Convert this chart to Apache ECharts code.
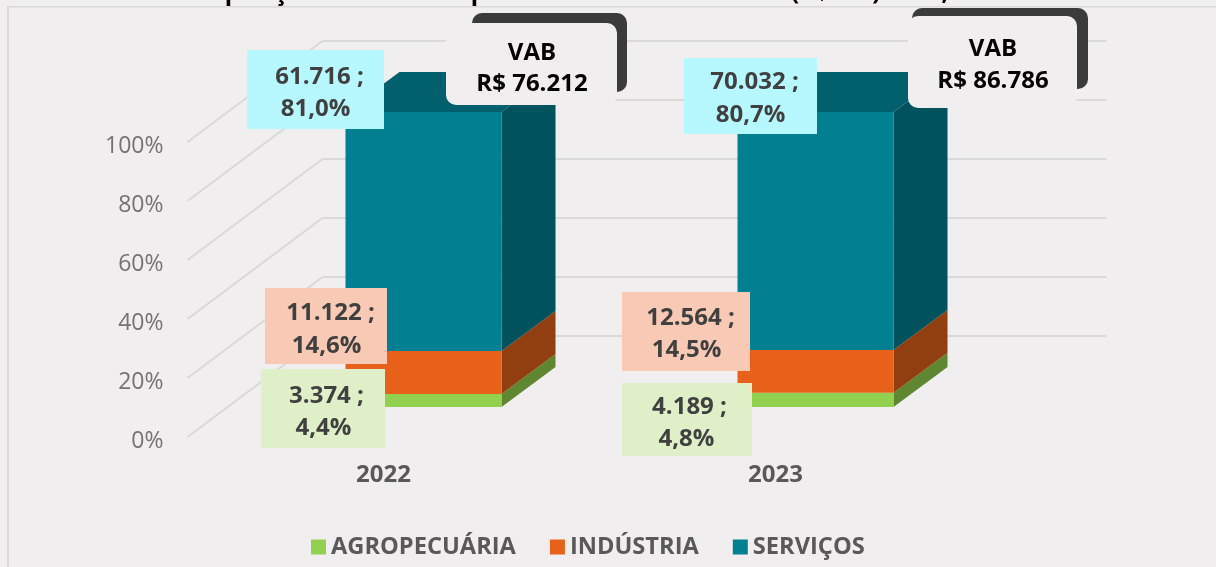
<!DOCTYPE html>
<html>
<head>
<meta charset="utf-8">
<style>html,body{margin:0;padding:0;background:#f0eeef}#c{width:1216px;height:567px}</style>
<script src="https://cdn.jsdelivr.net/npm/echarts@6/dist/echarts.min.js"></script>
</head>
<body>
<div id="c"></div>
<script>
// ---- data ----
const categories = ['2022', '2023'];
const seriesNames = ['AGROPECUÁRIA', 'INDÚSTRIA', 'SERVIÇOS'];
const agro = [3374, 4189];
const industria = [11122, 12564];
const servicos = [61716, 70032];
const agroPct = ['4,4%', '4,8%'];
const industriaPct = ['14,6%', '14,5%'];
const servicosPct = ['81,0%', '80,7%'];
const vabTotals = ['R$ 76.212', 'R$ 86.786'];
const yTicks = [0, 20, 40, 60, 80, 100];

// ---- styles and layout constants ----
const FONT = '"Open Sans", sans-serif';
const colors = [
  {front: '#92d14f', side: '#5f8731', top: '#92d14f'},
  {front: '#e8611a', side: '#913e10', top: '#e8611a'},
  {front: '#008091', side: '#00525c', top: '#00616d'}
];
const labelFill = ['#dff0c9', '#f8cab5', '#b7f8fe'];
const PLOT = {left: 187.5, top: 142, width: 784, height: 295};
const WALL = {dx: 135, dy: -101};     // depth from front to back wall
const BAR = {dx: 40, dy: -30, depthX: 54, depthY: -40, ratio: 0.398};
const Y_LABEL_SHIFT = 4;              // tick labels sit slightly below the wall lines

// label geometry relative to the category anchor (category centre at 0%)
// [boxX, boxY, boxW, boxH, line1X, line1Y, line2X, line2Y]
const labelLayout = [
  [[-122.5, -68, 124, 79, -57, -41, -60, -9], [-153.5, -54, 130, 73, -86, -30, -89, 2]],
  [[-118.5, -149, 122, 76, -53, -124, -57, -91], [-153.5, -145, 128, 79, -85, -119, -89, -87]],
  [[-136.5, -387, 137, 79, -64, -360, -68, -328], [-91.5, -379, 133, 76, -21, -355, -25, -322]]
];
// callouts: fill box, shadow box, text centre, text lines y; relative to the anchor
const calloutLayout = [
  {fill: [62.5, -414, 171, 82], back: [88.5, -424, 155, 79], cx: 148.5, y1: -384, y2: -353},
  {fill: [132.5, -421, 169, 92], back: [136.5, -429, 176, 81], cx: 217.5, y1: -388, y2: -356}
];

// ---- derived values ----
const values = [agro, industria, servicos];
const pcts = [agroPct, industriaPct, servicosPct];
const totals = categories.map((_, i) => values.reduce((s, v) => s + v[i], 0));
const fmt = n => String(n).replace(/\B(?=(\d{3})+$)/g, '.');

function stackData(si) {
  return categories.map((_, i) => {
    let base = 0;
    for (let k = 0; k < si; k++) base += values[k][i];
    return [i, base / totals[i] * 100, (base + values[si][i]) / totals[i] * 100];
  });
}

const barSeries = seriesNames.map((name, si) => ({
  type: 'custom', name, xAxisIndex: 0, yAxisIndex: 0, z: 5 + si,
  itemStyle: {color: colors[si].front},
  data: stackData(si),
  encode: {x: 0, y: [1, 2]},
  renderItem(params, api) {
    const lo = api.coord([api.value(0), api.value(1)]);
    const hi = api.coord([api.value(0), api.value(2)]);
    const w = api.size([1, 0])[0] * BAR.ratio;
    const x0 = lo[0] + BAR.dx - w / 2, x1 = x0 + w;
    const yb = lo[1] + BAR.dy, yt = hi[1] + BAR.dy;
    const c = colors[si];
    const kids = [
      {type: 'polygon', shape: {points: [[x1, yb], [x1 + BAR.depthX, yb + BAR.depthY], [x1 + BAR.depthX, yt + BAR.depthY], [x1, yt]]}, style: {fill: c.side}},
      {type: 'rect', shape: {x: x0, y: yt, width: w, height: yb - yt}, style: {fill: c.front}}
    ];
    if (si === seriesNames.length - 1) {
      kids.unshift({type: 'polygon', shape: {points: [[x0, yt], [x1, yt], [x1 + BAR.depthX, yt + BAR.depthY], [x0 + BAR.depthX, yt + BAR.depthY]]}, style: {fill: c.top}});
    }
    return {type: 'group', children: kids};
  }
}));

const wallSeries = {
  type: 'custom', name: 'wall', xAxisIndex: 0, yAxisIndex: 0, z: 2, silent: true,
  data: yTicks.map(v => [v]),
  encode: {y: 0},
  renderItem(params, api) {
    const v = api.value(0);
    const p = api.coord([0, v]);
    const x = PLOT.left;
    return {type: 'line', shape: {x1: x, y1: p[1], x2: x + WALL.dx, y2: p[1] + WALL.dy},
      style: {stroke: '#d9d9d9', lineWidth: 2}};
  }
};

const labelSeries = {
  type: 'custom', name: 'labels', xAxisIndex: 0, yAxisIndex: 0, z: 20, silent: true,
  data: seriesNames.flatMap((_, si) => categories.map((_, i) => [i, si])),
  encode: {x: 0},
  renderItem(params, api) {
    const i = api.value(0), si = api.value(1);
    const a = api.coord([i, 0]);
    const L = labelLayout[si][i];
    const t = (s, x, y) => ({type: 'text', style: {text: s, x: a[0] + x, y: a[1] + y, align: 'center', verticalAlign: 'middle',
      fill: '#404040', font: 'bold 24px ' + FONT}});
    return {type: 'group', children: [
      {type: 'rect', shape: {x: a[0] + L[0], y: a[1] + L[1], width: L[2], height: L[3]}, style: {fill: labelFill[si]}},
      t(fmt(values[si][i]) + ' ;', L[4], L[5]),
      t(pcts[si][i], L[6], L[7])
    ]};
  }
};

const calloutSeries = {
  type: 'custom', name: 'VAB', xAxisIndex: 0, yAxisIndex: 0, z: 30, silent: true,
  data: categories.map((_, i) => [i]),
  encode: {x: 0},
  renderItem(params, api) {
    const i = api.value(0);
    const a = api.coord([i, 0]);
    const C = calloutLayout[i];
    const t = (s, y) => ({type: 'text', style: {text: s, x: a[0] + C.cx, y: a[1] + y, align: 'center', verticalAlign: 'middle',
      fill: '#000000', font: 'bold 24px ' + FONT}});
    return {type: 'group', children: [
      {type: 'rect', shape: {x: a[0] + C.back[0], y: a[1] + C.back[1], width: C.back[2], height: C.back[3], r: 10}, style: {fill: '#3b3b3b'}},
      {type: 'rect', shape: {x: a[0] + C.fill[0], y: a[1] + C.fill[1], width: C.fill[2], height: C.fill[3], r: 10}, style: {fill: '#f0eeef'}},
      t('VAB', C.y1),
      t(vabTotals[i], C.y2)
    ]};
  }
};

const option = {
  animation: false,
  backgroundColor: '#f0eeef',
  title: {
    text: 'Composição do VAB Real por Setores da Economia – (R$ Mil) 2022, 2023',
    left: 166, top: -24,
    textStyle: {fontFamily: FONT, fontWeight: 'bold', fontSize: 24, color: '#000'}
  },
  legend: {
    data: seriesNames, left: 306, top: 530, icon: 'rect', itemWidth: 15, itemHeight: 15, itemGap: 34,
    textStyle: {fontFamily: FONT, fontWeight: 'bold', fontSize: 23.65, color: '#595959'},
    selectedMode: false
  },
  graphic: [
    {type: 'rect', silent: true, shape: {x: 8, y: 6, width: 1208, height: 1.5}, style: {fill: '#d9d9d9'}},
    {type: 'rect', silent: true, shape: {x: 7, y: 6, width: 2, height: 561}, style: {fill: '#d9d9d9'}}
  ],
  grid: [
    {left: PLOT.left, top: PLOT.top, width: PLOT.width, height: PLOT.height},
    {left: PLOT.left + WALL.dx, top: PLOT.top + WALL.dy, width: PLOT.width, height: PLOT.height},
    {left: PLOT.left, top: PLOT.top + Y_LABEL_SHIFT, width: PLOT.width, height: PLOT.height}
  ],
  xAxis: [
    {type: 'category', gridIndex: 0, data: categories, axisLine: {show: false}, axisTick: {show: false},
      axisLabel: {margin: 26, fontFamily: FONT, fontWeight: 'bold', fontSize: 24, color: '#595959'}},
    {type: 'category', gridIndex: 1, data: categories, show: false},
    {type: 'category', gridIndex: 2, data: categories, show: false}
  ],
  yAxis: [
    {type: 'value', gridIndex: 0, min: 0, max: 100, interval: 20, show: false},
    {type: 'value', gridIndex: 1, min: 0, max: 100, interval: 20, axisLine: {show: false}, axisTick: {show: false}, axisLabel: {show: false},
      splitLine: {show: true, lineStyle: {color: '#d9d9d9', width: 2}}},
    {type: 'value', gridIndex: 2, min: 0, max: 100, interval: 20, axisLine: {show: false}, axisTick: {show: false}, splitLine: {show: false},
      axisLabel: {formatter: '{value}%', margin: 24, fontFamily: FONT, fontSize: 23, color: '#737373'}}
  ],
  series: [wallSeries, ...barSeries, labelSeries, calloutSeries]
};
echarts.init(document.getElementById('c'), null, {renderer: 'canvas'}).setOption(option);
</script>
</body>
</html>
